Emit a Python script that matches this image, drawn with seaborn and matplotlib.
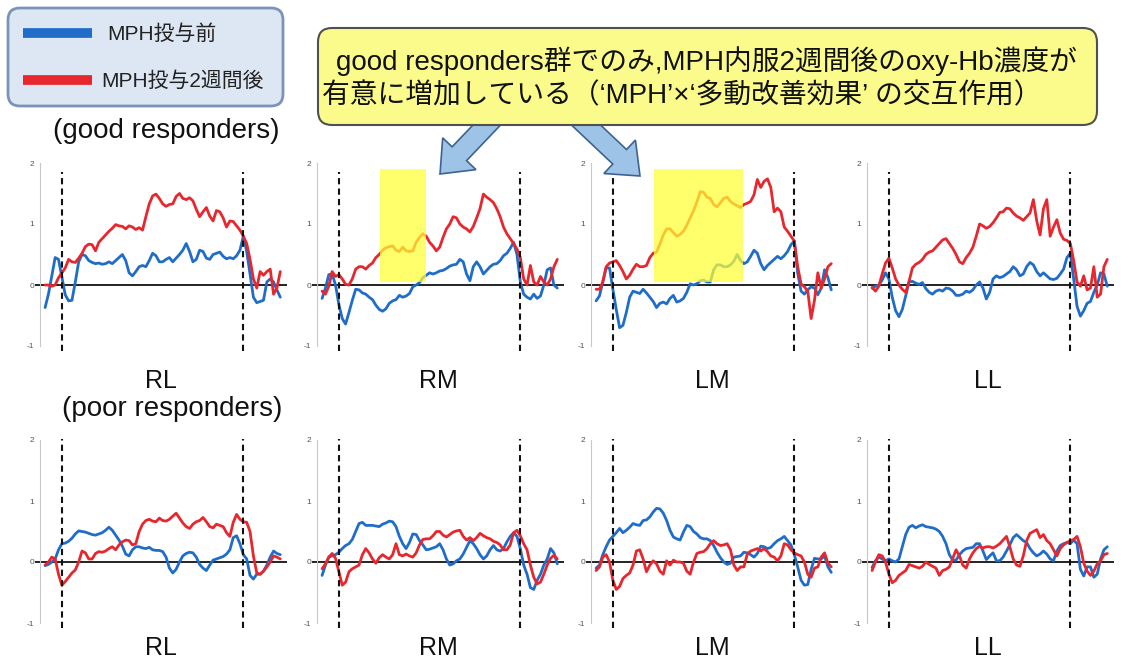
import numpy as np
import pandas as pd
import matplotlib
matplotlib.use("Agg")
import matplotlib.pyplot as plt
import seaborn as sns
from matplotlib.patches import FancyBboxPatch, FancyArrow, Rectangle

# ---------------------------------------------------------------- data
TIME_S = np.arange(0, 71)          # seconds, 1 s sampling
TASK_ON, TASK_OFF = 5, 59          # task block markers (s)
REGIONS = ["RL", "RM", "LM", "LL"]
GROUPS = ["good", "poor"]
GROUP_TITLES = {"good": "(good responders)", "poor": "(poor responders)"}
PRE = "MPH投与前"
POST = "MPH投与2週間後"

# oxy-Hb change, good responders
GOOD_RL_PRE = [-0.37, -0.15, 0.15, 0.45, 0.42, 0.13, -0.16, -0.26, -0.25, 0.05,
               0.38, 0.50, 0.48, 0.40, 0.37, 0.35, 0.36, 0.34, 0.35, 0.38,
               0.35, 0.40, 0.45, 0.50, 0.40, 0.20, 0.15, 0.22, 0.30, 0.32,
               0.30, 0.40, 0.52, 0.48, 0.38, 0.38, 0.42, 0.45, 0.38, 0.44,
               0.50, 0.57, 0.68, 0.55, 0.38, 0.42, 0.57, 0.55, 0.44, 0.42,
               0.50, 0.52, 0.54, 0.47, 0.43, 0.45, 0.43, 0.48, 0.57, 0.80,
               0.55, 0.18, -0.20, -0.29, -0.27, -0.25, 0.05, 0.10, 0.05, -0.08,
               -0.20]
GOOD_RL_POST = [0.00, 0.00, -0.02, 0.00, 0.12, 0.20, 0.28, 0.42, 0.38, 0.37,
                0.44, 0.52, 0.63, 0.67, 0.66, 0.56, 0.70, 0.76, 0.82, 0.88,
                0.93, 0.99, 0.97, 0.96, 0.92, 0.97, 0.95, 0.91, 0.94, 0.90,
                1.12, 1.33, 1.46, 1.49, 1.42, 1.33, 1.29, 1.32, 1.33, 1.45,
                1.50, 1.42, 1.40, 1.43, 1.38, 1.24, 1.12, 1.20, 1.27, 1.13,
                1.05, 1.22, 1.20, 1.10, 0.95, 1.05, 1.04, 0.97, 0.90, 0.80,
                0.68, 0.42, 0.10, -0.05, 0.22, 0.16, 0.22, 0.26, -0.15, -0.05,
                0.22]
GOOD_RM_PRE = [-0.22, -0.05, 0.17, 0.18, 0.00, -0.32, -0.55, -0.64, -0.45, -0.25,
               -0.07, -0.08, -0.13, -0.15, -0.20, -0.24, -0.33, -0.40, -0.43, -0.39,
               -0.30, -0.26, -0.24, -0.17, -0.20, -0.18, -0.14, -0.03, 0.00, 0.04,
               0.12, 0.16, 0.20, 0.18, 0.20, 0.23, 0.24, 0.27, 0.31, 0.33,
               0.34, 0.42, 0.38, 0.18, 0.07, 0.30, 0.38, 0.30, 0.18, 0.24,
               0.30, 0.34, 0.35, 0.40, 0.48, 0.52, 0.60, 0.70, 0.50, 0.05,
               -0.15, -0.20, -0.23, -0.15, -0.22, -0.18, 0.00, 0.25, 0.28, 0.00,
               -0.05]
GOOD_RM_POST = [-0.10, -0.15, -0.02, 0.22, 0.14, 0.17, 0.10, 0.01, 0.00, 0.10,
                0.26, 0.30, 0.30, 0.26, 0.32, 0.36, 0.45, 0.50, 0.57, 0.61,
                0.63, 0.64, 0.57, 0.55, 0.62, 0.56, 0.55, 0.56, 0.70, 0.78,
                0.84, 0.80, 0.70, 0.64, 0.56, 0.62, 0.78, 0.92, 1.00, 1.12,
                1.10, 1.00, 0.95, 0.92, 0.87, 0.96, 1.10, 1.25, 1.49, 1.44,
                1.40, 1.35, 1.25, 1.12, 0.95, 0.84, 0.76, 0.68, 0.59, 0.45,
                0.10, 0.00, 0.32, 0.05, 0.00, 0.14, 0.05, 0.00, 0.10, 0.30,
                0.42]
GOOD_LM_PRE = [-0.26, -0.18, 0.05, 0.28, 0.28, -0.07, -0.40, -0.70, -0.66, -0.45,
               -0.20, -0.10, -0.12, -0.14, -0.07, -0.13, -0.20, -0.27, -0.37, -0.30,
               -0.28, -0.31, -0.22, -0.17, -0.28, -0.26, -0.22, -0.12, 0.02, 0.00,
               0.02, 0.07, 0.08, 0.05, 0.05, 0.25, 0.33, 0.33, 0.30, 0.30,
               0.33, 0.39, 0.50, 0.40, 0.35, 0.38, 0.47, 0.57, 0.52, 0.35,
               0.25, 0.32, 0.37, 0.42, 0.47, 0.43, 0.48, 0.55, 0.66, 0.72,
               0.20, -0.10, -0.15, -0.08, -0.03, -0.05, -0.16, -0.05, 0.25, 0.12,
               -0.08]
GOOD_LM_POST = [-0.07, -0.07, 0.05, 0.30, 0.36, 0.38, 0.40, 0.32, 0.22, 0.10,
                0.16, 0.26, 0.34, 0.30, 0.30, 0.32, 0.45, 0.52, 0.54, 0.67,
                0.82, 0.92, 0.92, 0.86, 0.80, 0.83, 0.88, 0.98, 1.10, 1.22,
                1.36, 1.53, 1.52, 1.44, 1.42, 1.32, 1.28, 1.35, 1.42, 1.44,
                1.37, 1.33, 1.30, 1.27, 1.32, 1.34, 1.37, 1.48, 1.73, 1.60,
                1.70, 1.74, 1.60, 1.20, 1.26, 1.20, 0.95, 0.88, 0.80, 0.72,
                0.30, 0.02, -0.03, -0.10, -0.55, -0.25, 0.20, -0.05, 0.10, 0.30,
                0.35]
GOOD_LL_PRE = [-0.05, -0.02, 0.00, 0.08, 0.20, 0.10, -0.20, -0.42, -0.52, -0.40,
               -0.18, 0.05, 0.06, 0.03, 0.01, 0.04, -0.06, -0.12, -0.15, -0.10,
               -0.08, -0.10, -0.05, -0.06, -0.10, -0.17, -0.17, -0.15, -0.10, -0.12,
               -0.08, 0.00, 0.05, -0.05, -0.23, -0.12, 0.10, 0.15, 0.12, 0.14,
               0.18, 0.22, 0.30, 0.25, 0.15, 0.18, 0.30, 0.37, 0.33, 0.22,
               0.15, 0.20, 0.15, 0.10, 0.09, 0.11, 0.18, 0.26, 0.45, 0.52,
               0.10, -0.35, -0.51, -0.42, -0.30, -0.27, -0.12, 0.00, 0.20, 0.18,
               -0.02]
GOOD_LL_POST = [-0.04, -0.10, -0.02, 0.18, 0.36, 0.44, 0.28, 0.10, 0.00, -0.07,
                -0.12, 0.06, 0.28, 0.34, 0.37, 0.42, 0.50, 0.54, 0.56, 0.62,
                0.68, 0.74, 0.76, 0.68, 0.60, 0.50, 0.38, 0.35, 0.45, 0.52,
                0.62, 0.80, 1.00, 0.97, 0.93, 0.96, 1.02, 1.10, 1.19, 1.20,
                1.26, 1.25, 1.18, 1.13, 1.10, 1.06, 1.12, 1.18, 1.40, 1.05,
                0.82, 1.25, 1.40, 0.80, 0.95, 1.07, 0.85, 0.75, 0.73, 0.68,
                0.40, 0.05, -0.02, 0.15, -0.08, -0.05, 0.30, -0.20, -0.15, 0.30,
                0.42]

# oxy-Hb change, poor responders
POOR_RL_PRE = [-0.06, -0.04, 0.00, 0.05, 0.20, 0.30, 0.31, 0.34, 0.39, 0.46,
               0.51, 0.50, 0.49, 0.47, 0.45, 0.44, 0.46, 0.48, 0.52, 0.57,
               0.52, 0.44, 0.36, 0.26, 0.13, 0.10, 0.20, 0.25, 0.25, 0.23,
               0.22, 0.24, 0.20, 0.19, 0.19, 0.17, 0.08, -0.10, -0.18, -0.12,
               0.00, 0.10, 0.14, 0.16, 0.15, 0.08, -0.04, -0.10, -0.14, -0.05,
               0.03, 0.05, 0.07, 0.09, 0.13, 0.20, 0.40, 0.43, 0.30, 0.12,
               0.05, -0.22, -0.28, -0.20, -0.20, -0.15, -0.05, 0.08, 0.18, 0.14,
               0.12]
POOR_RL_POST = [-0.05, 0.00, 0.08, 0.05, -0.20, -0.38, -0.32, -0.25, -0.18, -0.13,
                0.00, 0.18, 0.15, 0.05, 0.05, 0.14, 0.17, 0.16, 0.18, 0.22,
                0.25, 0.20, 0.28, 0.33, 0.36, 0.35, 0.28, 0.30, 0.50, 0.62,
                0.68, 0.70, 0.67, 0.66, 0.72, 0.68, 0.67, 0.70, 0.75, 0.80,
                0.72, 0.64, 0.58, 0.55, 0.62, 0.66, 0.68, 0.73, 0.66, 0.58,
                0.56, 0.62, 0.60, 0.58, 0.48, 0.42, 0.65, 0.78, 0.70, 0.66,
                0.65, 0.50, 0.10, -0.18, -0.20, -0.15, -0.08, 0.00, 0.10, 0.08,
                0.05]
POOR_RM_PRE = [-0.22, -0.05, 0.08, 0.10, 0.12, 0.16, 0.22, 0.27, 0.30, 0.37,
               0.50, 0.63, 0.65, 0.60, 0.60, 0.60, 0.59, 0.58, 0.62, 0.64,
               0.67, 0.66, 0.58, 0.42, 0.30, 0.22, 0.32, 0.46, 0.45, 0.35,
               0.28, 0.20, 0.21, 0.23, 0.25, 0.30, 0.20, 0.05, -0.05, -0.03,
               0.02, 0.05, 0.13, 0.24, 0.35, 0.30, 0.22, 0.12, 0.05, 0.10,
               0.20, 0.27, 0.20, 0.18, 0.22, 0.33, 0.42, 0.48, 0.42, 0.22,
               -0.05, -0.20, -0.42, -0.45, -0.30, -0.20, -0.05, 0.05, 0.22, 0.15,
               -0.03]
POOR_RM_POST = [-0.11, -0.03, 0.08, 0.14, 0.06, -0.16, -0.38, -0.33, -0.16, -0.11,
                -0.08, -0.05, 0.12, 0.22, 0.15, 0.05, -0.02, 0.07, 0.12, 0.08,
                0.05, 0.12, 0.30, 0.12, 0.10, 0.13, 0.10, 0.08, 0.15, 0.28,
                0.37, 0.38, 0.38, 0.43, 0.50, 0.50, 0.44, 0.41, 0.45, 0.49,
                0.51, 0.52, 0.42, 0.36, 0.40, 0.35, 0.40, 0.47, 0.43, 0.40,
                0.38, 0.34, 0.32, 0.28, 0.20, 0.20, 0.28, 0.48, 0.52, 0.43,
                0.30, 0.20, -0.05, -0.25, -0.36, -0.33, -0.20, -0.05, 0.06, 0.11,
                0.05]
POOR_LM_PRE = [-0.10, -0.05, 0.12, 0.25, 0.36, 0.42, 0.48, 0.55, 0.48, 0.52,
               0.57, 0.63, 0.61, 0.60, 0.68, 0.69, 0.74, 0.82, 0.88, 0.87,
               0.80, 0.68, 0.52, 0.41, 0.38, 0.36, 0.49, 0.60, 0.58, 0.50,
               0.46, 0.40, 0.38, 0.38, 0.35, 0.27, 0.16, 0.07, 0.00, -0.04,
               -0.02, 0.08, 0.09, 0.10, 0.16, 0.15, 0.12, 0.08, 0.14, 0.26,
               0.25, 0.22, 0.24, 0.30, 0.35, 0.38, 0.42, 0.35, 0.28, 0.12,
               -0.08, -0.30, -0.38, -0.37, -0.12, 0.06, 0.05, 0.05, 0.10, -0.08,
               -0.17]
POOR_LM_POST = [-0.14, -0.08, 0.08, 0.12, 0.00, -0.30, -0.45, -0.40, -0.27, -0.22,
                -0.18, -0.05, 0.18, 0.20, 0.05, -0.16, -0.05, 0.02, -0.03, -0.15,
                -0.20, 0.02, -0.05, 0.03, 0.00, 0.00, -0.02, -0.15, -0.20, 0.00,
                0.14, 0.16, 0.17, 0.22, 0.30, 0.35, 0.30, 0.27, 0.28, 0.30,
                0.20, -0.05, -0.14, -0.08, -0.08, 0.13, 0.18, 0.20, 0.22, 0.18,
                0.22, 0.17, 0.10, 0.08, 0.02, 0.10, 0.30, 0.28, 0.20, 0.15,
                0.12, 0.10, 0.00, -0.20, -0.25, -0.10, -0.08, 0.08, 0.15, -0.02,
                -0.08]
POOR_LL_PRE = [-0.09, 0.02, 0.08, 0.05, 0.02, 0.05, 0.02, 0.00, 0.05, 0.25,
               0.45, 0.57, 0.60, 0.56, 0.59, 0.61, 0.58, 0.57, 0.56, 0.54,
               0.50, 0.42, 0.30, 0.12, 0.03, 0.03, 0.12, 0.18, 0.22, 0.23,
               0.24, 0.30, 0.30, 0.18, 0.04, 0.10, 0.15, 0.02, 0.02, 0.08,
               0.18, 0.28, 0.40, 0.45, 0.40, 0.35, 0.32, 0.22, 0.15, 0.10,
               0.13, 0.18, 0.13, 0.05, 0.02, 0.18, 0.27, 0.30, 0.32, 0.30,
               0.36, 0.30, -0.12, -0.23, -0.08, -0.08, -0.25, -0.20, 0.05, 0.20,
               0.25]
POOR_LL_POST = [-0.14, 0.00, 0.12, 0.10, 0.00, -0.20, -0.34, -0.30, -0.22, -0.18,
                -0.14, -0.04, -0.06, -0.08, -0.10, -0.07, 0.00, -0.04, -0.07, -0.10,
                -0.22, -0.14, -0.12, -0.08, 0.06, 0.20, 0.10, -0.05, -0.10, 0.05,
                0.15, 0.22, 0.26, 0.23, 0.25, 0.25, 0.23, 0.26, 0.30, 0.36,
                0.42, 0.25, 0.05, -0.05, -0.07, 0.10, 0.35, 0.47, 0.50, 0.53,
                0.40, 0.45, 0.35, 0.30, 0.20, 0.10, 0.22, 0.28, 0.32, 0.35,
                0.37, 0.42, 0.25, -0.02, -0.15, -0.22, -0.15, -0.03, 0.02, 0.12,
                0.14]

# time windows with a significant group x drug interaction (s)
HIGHLIGHT = {("good", "RM"): (17.3, 31.0), ("good", "LM"): (17.3, 43.8)}

SERIES = {
    ("good", "RL"): (GOOD_RL_PRE, GOOD_RL_POST),
    ("good", "RM"): (GOOD_RM_PRE, GOOD_RM_POST),
    ("good", "LM"): (GOOD_LM_PRE, GOOD_LM_POST),
    ("good", "LL"): (GOOD_LL_PRE, GOOD_LL_POST),
    ("poor", "RL"): (POOR_RL_PRE, POOR_RL_POST),
    ("poor", "RM"): (POOR_RM_PRE, POOR_RM_POST),
    ("poor", "LM"): (POOR_LM_PRE, POOR_LM_POST),
    ("poor", "LL"): (POOR_LL_PRE, POOR_LL_POST),
}

frames = []
for (grp, reg), (pre_vals, post_vals) in SERIES.items():
    for cond, vals in ((PRE, pre_vals), (POST, post_vals)):
        frames.append(pd.DataFrame({"time": TIME_S, "oxyHb": vals,
                                    "condition": cond, "group": grp,
                                    "region": reg}))
df = pd.concat(frames, ignore_index=True)

# ---------------------------------------------------------------- style
sns.set_theme(style="white")
plt.rcParams["font.family"] = ["Liberation Sans", "Noto Sans CJK JP", "DejaVu Sans"]
plt.rcParams["axes.unicode_minus"] = False

PALETTE = {PRE: "#1f6dc9", POST: "#e8262d"}

W, H = 1142, 665
fig = plt.figure(figsize=(W / 100, H / 100), dpi=100)
fig.patch.set_facecolor("white")


def px_rect(left, top, width, height):
    return [left / W, 1 - (top + height) / H, width / W, height / H]


PANEL_LEFT = [35, 312, 586, 862]
PANEL_W = 252
ROW_SPAN = {"good": (163, 346), "poor": (440, 623)}
DASH_TOP = {"good": 1.86, "poor": 2.02}
LABEL_Y = {"good": 381, "poor": 648}

for grp in GROUPS:
    top, bottom = ROW_SPAN[grp]
    for i, reg in enumerate(REGIONS):
        ax = fig.add_axes(px_rect(PANEL_LEFT[i], top, PANEL_W, bottom - top))
        ax.patch.set_alpha(0)
        sub = df[(df["group"] == grp) & (df["region"] == reg)]
        ax.axhline(0, color="#111111", lw=1.3, zorder=1)
        sns.lineplot(data=sub, x="time", y="oxyHb", hue="condition",
                     hue_order=[PRE, POST], palette=PALETTE, ax=ax,
                     legend=False, linewidth=2.0, errorbar=None, zorder=2)
        ax.vlines([TASK_ON, TASK_OFF], -1.08, DASH_TOP[grp], colors="#111111",
                  linestyles=(0, (3, 2)), lw=1.5, clip_on=False, zorder=2.5)
        if (grp, reg) in HIGHLIGHT:
            x0, x1 = HIGHLIGHT[(grp, reg)]
            ax.add_patch(Rectangle((x0, 0.05), x1 - x0, 1.85,
                                   facecolor=(1, 1, 0.2), alpha=0.72,
                                   lw=0, zorder=3))
        ax.set_xlim(-3, 72)
        ax.set_ylim(-1, 2)
        ax.set_xticks([])
        ax.set_yticks([-1, 0, 1, 2])
        ax.set_yticklabels(["-1", "0", "1", "2"])
        ax.tick_params(axis="y", length=0, labelsize=6, labelcolor="#555555", pad=4)
        ax.set_xlabel("")
        ax.set_ylabel("")
        for side in ("top", "right", "bottom"):
            ax.spines[side].set_visible(False)
        ax.spines["left"].set_color("#c8c8c8")
        ax.spines["left"].set_linewidth(0.8)
        ax.spines["left"].set_position(("data", -1.5))
        ax.grid(False)
        fig.text((PANEL_LEFT[i] + PANEL_W / 2) / W, 1 - LABEL_Y[grp] / H, reg,
                 ha="center", va="center", fontsize=18, color="#111111")

# ---------------------------------------------------------------- annotations
ov = fig.add_axes([0, 0, 1, 1])
ov.set_xlim(0, W)
ov.set_ylim(H, 0)
ov.axis("off")
ov.patch.set_alpha(0)

# legend box
ov.add_patch(FancyBboxPatch((8, 8), 275, 98, boxstyle="round,pad=0,rounding_size=12",
                            fc="#dce7f3", ec="#7a93b8", lw=2, zorder=2))
ov.plot([23, 92], [33, 33], color=PALETTE[PRE], lw=7, solid_capstyle="butt", zorder=3)
ov.plot([23, 92], [80, 80], color=PALETTE[POST], lw=7, solid_capstyle="butt", zorder=3)
ov.text(107, 34, PRE, fontsize=15, va="center", color="#222222", zorder=4)
ov.text(101, 81, POST, fontsize=15, va="center", color="#222222", zorder=4)

# group headers
ov.text(166, 131, GROUP_TITLES["good"], ha="center", va="center",
        fontsize=20, color="#111111")
ov.text(172, 409, GROUP_TITLES["poor"], ha="center", va="center",
        fontsize=20, color="#111111")

# callout with arrows towards RM and LM
arrow_kw = dict(width=20, head_width=46, head_length=28, length_includes_head=True,
                fc="#9dc3e6", ec="#3f6390", lw=1.2, zorder=2)
ov.add_patch(FancyArrow(503, 108, -63, 66, **arrow_kw))
ov.add_patch(FancyArrow(568, 108, 72, 68, **arrow_kw))
ov.add_patch(FancyBboxPatch((318, 28), 779, 97, boxstyle="round,pad=0,rounding_size=14",
                            fc="#fbfb8c", ec="#505050", lw=1.5, zorder=3))
ov.text(336, 61, "good responders群でのみ,MPH内服2週間後のoxy-Hb濃度が",
        fontsize=20, va="center", color="#111111", zorder=4)
ov.text(322, 96, "有意に増加している（‘MPH’×‘多動改善効果’ の交互作用）",
        fontsize=20, va="center", color="#111111", zorder=4)

fig.savefig("out.png", dpi=100)
